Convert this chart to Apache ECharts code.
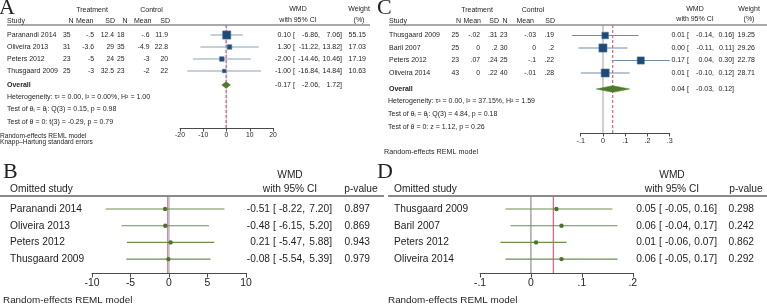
<!DOCTYPE html>
<html><head><meta charset="utf-8">
<script src="https://cdn.jsdelivr.net/npm/echarts@6/dist/echarts.min.js"></script>
<style>html,body{margin:0;padding:0;background:#fff}#c{width:767px;height:308px}</style>
</head><body><div id="c"></div>
<script>
// ---------- Panel A data ----------
const studiesA = ['Paranandi 2014', 'Oliveira 2013', 'Peters 2012', 'Thusgaard 2009'];
const trtNA = ['35', '31', '23', '25'];
const trtMeanA = ['-.5', '-3.6', '-5', '-3'];
const trtSDA = ['12.4', '29', '24', '32.5'];
const ctlNA = ['18', '35', '25', '23'];
const ctlMeanA = ['-.6', '-4.9', '-3', '-2'];
const ctlSDA = ['11.9', '22.8', '20', '22'];
const wmdA = [0.10, 1.30, -2.00, -1.00];
const loA = [-6.86, -11.22, -14.46, -16.84];
const hiA = [7.06, 13.82, 10.46, 14.84];
const weightA = [55.15, 17.03, 17.19, 10.63];
const overallA = [-0.17, -2.06, 1.72];
const ticksA = [-20, -10, 0, 10, 20];

// ---------- Panel C data ----------
const studiesC = ['Thusgaard 2009', 'Baril 2007', 'Peters 2012', 'Oliveira 2014'];
const trtNC = ['25', '25', '23', '43'];
const trtMeanC = ['-.02', '0', '.07', '0'];
const trtSDC = ['.31', '.2', '.24', '.22'];
const ctlNC = ['23', '30', '25', '40'];
const ctlMeanC = ['-.03', '0', '-.1', '-.01'];
const ctlSDC = ['.19', '.2', '.22', '.28'];
const wmdC = [0.01, 0.00, 0.17, 0.01];
const loC = [-0.14, -0.11, 0.04, -0.10];
const hiC = [0.16, 0.11, 0.30, 0.12];
const weightC = [19.25, 29.26, 22.78, 28.71];
const overallC = [0.044, -0.03, 0.12];
const ticksC = [-0.1, 0, 0.1, 0.2, 0.3];

// ---------- Panel B data (leave-one-out) ----------
const studiesB = ['Paranandi 2014', 'Oliveira 2013', 'Peters 2012', 'Thusgaard 2009'];
const estB = [-0.51, -0.48, 0.21, -0.08];
const loB = [-8.22, -6.15, -5.47, -5.54];
const hiB = [7.20, 5.20, 5.88, 5.39];
const pB = [0.897, 0.869, 0.943, 0.979];
const ticksB = [-10, -5, 0, 5, 10];

// ---------- Panel D data (leave-one-out) ----------
const studiesD = ['Thusgaard 2009', 'Baril 2007', 'Peters 2012', 'Oliveira 2014'];
const estD = [0.05, 0.06, 0.01, 0.06];
const loD = [-0.05, -0.04, -0.06, -0.05];
const hiD = [0.16, 0.17, 0.07, 0.17];
const pD = [0.298, 0.242, 0.862, 0.292];
const ticksD = [-0.1, 0, 0.1, 0.2];

// ---------- layout ----------
const FF = '"Liberation Sans", Arial, Helvetica, sans-serif';
const SERIF = '"Liberation Serif", "Times New Roman", serif';
const LA = {top: 25, rowY0: 35, step: 12, axisY: 128, x0: 180, x1: 273, overallY: 85};
const LC = {top: 25, rowY0: 35.5, step: 12.5, axisY: 133, x0: 580.7, x1: 669.7, overallY: 89};
const LB = {top: 196, rowY0: 209, step: 16.7, axisY: 273, x0: 92, x1: 246};
const LD = {top: 196, rowY0: 209, step: 16.7, axisY: 273, x0: 480, x1: 632.8};
const rowVal = (L, y) => (y - L.rowY0) / L.step;
const rowY = (L, i) => L.rowY0 + L.step * i;
const stataFmt = v => { if (Math.abs(v) < 1e-9) return '0'; let s = String(+v.toFixed(2)); return s.replace(/^(-?)0\./, '$1.'); };

const graphics = [];
function T(x, y, text, o) {
  o = o || {};
  graphics.push({type: 'text', x: x, y: y, silent: true, z: 10,
    style: {text: text, fill: o.color || '#1e1e1e', fontSize: o.size || 7, fontFamily: o.family || FF,
      fontWeight: o.weight || 'normal', align: o.align || 'left', verticalAlign: o.va || 'middle', rich: o.rich}});
}
function HL(x1, x2, y, color, w) {
  graphics.push({type: 'line', silent: true, z: 5, shape: {x1: x1, y1: y, x2: x2, y2: y}, style: {stroke: color, lineWidth: w}});
}
// CI text: estimate right-aligned, "[" at fixed x, lower right-aligned, upper right-aligned
function CI(pos, y, e, l, h, size) {
  T(pos[0], y, e.toFixed(2), {align: 'right', size: size});
  T(pos[1], y, '[', {size: size});
  T(pos[2], y, l.toFixed(2) + ',', {align: 'right', size: size});
  T(pos[3], y, h.toFixed(2) + ']', {align: 'right', size: size});
}

const grids = [], xAxes = [], yAxes = [], series = [];
function addPanel(L, ticks, fontSize, margin, tickLen, fmt) {
  const gi = grids.length;
  grids.push({left: L.x0, top: L.top, width: L.x1 - L.x0, height: L.axisY - L.top, containLabel: false});
  xAxes.push({gridIndex: gi, type: 'value', min: ticks[0], max: ticks[ticks.length - 1], interval: ticks[1] - ticks[0],
    axisLine: {show: true, onZero: false, lineStyle: {color: '#4a4a4a', width: 1}},
    axisTick: {show: true, length: tickLen, lineStyle: {color: '#4a4a4a'}},
    axisLabel: {fontSize: fontSize, color: '#1e1e1e', fontFamily: FF, margin: margin, formatter: fmt, showMinLabel: true, showMaxLabel: true},
    splitLine: {show: false}});
  yAxes.push({gridIndex: gi, type: 'value', inverse: true, min: rowVal(L, L.top), max: rowVal(L, L.axisY), show: false});
  return gi;
}
function refLines(gi, L, lines) {
  const yMin = rowVal(L, L.top), yMax = rowVal(L, L.axisY);
  series.push({type: 'custom', xAxisIndex: gi, yAxisIndex: gi, silent: true, z: 1,
    data: lines.map(l => [l.x, 0]),
    renderItem: function (params, api) {
      const l = lines[params.dataIndex];
      const a = api.coord([api.value(0), yMin]), b = api.coord([api.value(0), yMax]);
      return {type: 'line', shape: {x1: a[0], y1: a[1], x2: b[0], y2: b[1]},
        style: {stroke: l.color, lineWidth: l.width, lineDash: l.dash || null}};
    }});
}
function forestSeries(gi, est, lo, hi, wt, k, st) {
  series.push({type: 'custom', xAxisIndex: gi, yAxisIndex: gi, silent: true, z: 3,
    data: est.map((e, i) => [e, i, lo[i], hi[i], wt ? wt[i] : 0]),
    encode: {x: [0, 2, 3], y: 1},
    renderItem: function (params, api) {
      const e = api.value(0), r = api.value(1), l = api.value(2), h = api.value(3), w = api.value(4);
      const p1 = api.coord([l, r]), p2 = api.coord([h, r]), pc = api.coord([e, r]);
      const kids = [{type: 'line', shape: {x1: p1[0], y1: p1[1], x2: p2[0], y2: p2[1]}, style: {stroke: st.line, lineWidth: st.lw}}];
      if (wt) {
        const s = k * Math.sqrt(w);
        kids.push({type: 'rect', shape: {x: pc[0] - s / 2, y: pc[1] - s / 2, width: s, height: s}, style: {fill: st.fill, stroke: st.stroke, lineWidth: 0.6}});
      } else {
        kids.push({type: 'circle', shape: {cx: pc[0], cy: pc[1], r: st.r}, style: {fill: st.fill}});
      }
      return {type: 'group', children: kids};
    }});
}
function diamond(gi, L, ov) {
  const r = rowVal(L, L.overallY);
  series.push({type: 'custom', xAxisIndex: gi, yAxisIndex: gi, silent: true, z: 3,
    data: [[ov[0], r, ov[1], ov[2]]],
    renderItem: function (params, api) {
      const e = api.value(0), rr = api.value(1), l = api.value(2), h = api.value(3);
      const pl = api.coord([l, rr]), ph = api.coord([h, rr]), pc = api.coord([e, rr]);
      const hh = 3.3;
      return {type: 'polygon', shape: {points: [[pl[0], pl[1]], [pc[0], pc[1] - hh], [ph[0], ph[1]], [pc[0], pc[1] + hh]]},
        style: {fill: '#4f7a2a', stroke: '#4f7a2a', lineWidth: 0.5}};
    }});
}
const subRich = {s: {fontSize: 4.7, verticalAlign: 'bottom', padding: [3, 0, 0, 0]}};
const NUM = 6.8;

// ================= Panel A =================
const gA = addPanel(LA, ticksA, 6.8, 4, 3.5, v => String(v));
refLines(gA, LA, [{x: 0, color: '#d8d8d8', width: 1.5}, {x: overallA[0], color: '#c9486a', width: 1, dash: [3, 2]}]);
forestSeries(gA, wmdA, loA, hiA, weightA, 1.1, {line: '#8ba2b8', lw: 1.1, fill: '#1d4a77', stroke: '#4f75a0'});
diamond(gA, LA, overallA);
T(-1, -3, 'A', {size: 22, family: SERIF, va: 'top', color: '#222'});
T(92, 10, 'Treatment', {align: 'center'});
T(151.5, 10, 'Control', {align: 'center'});
T(7, 21, 'Study');
const colsA = [70.5, 94, 114, 124.5, 149.5, 168];
const hdrA = [73.5, 93.5, 115, 127.5, 151.5, 170];
['N', 'Mean', 'SD', 'N', 'Mean', 'SD'].forEach((h, j) => T(hdrA[j], 21, h, {align: 'right'}));
T(298, 9, 'WMD', {align: 'center'});
T(298, 20, 'with 95% CI', {align: 'center'});
T(359, 9, 'Weight', {align: 'center'});
T(359, 20, '(%)', {align: 'center'});
HL(7, 370, LA.top, '#8c8c8c', 1.5);
const ciA = [291, 293, 320, 342];
studiesA.forEach((s, i) => {
  const y = rowY(LA, i);
  T(7, y, s);
  [trtNA[i], trtMeanA[i], trtSDA[i], ctlNA[i], ctlMeanA[i], ctlSDA[i]].forEach((v, j) => T(colsA[j], y, v, {align: 'right', size: NUM}));
  CI(ciA, y, wmdA[i], loA[i], hiA[i]);
  T(366, y, weightA[i].toFixed(2), {align: 'right'});
});
T(7, LA.overallY, 'Overall', {weight: 'bold'});
CI(ciA, LA.overallY, overallA[0], overallA[1], overallA[2]);
T(7, 97, 'Heterogeneity: τ² = 0.00, I² = 0.00%, H² = 1.00');
T(7, 109, 'Test of θ{s|i} = θ{s|j}: Q(3) = 0.15, p = 0.98', {rich: subRich});
T(7, 122, 'Test of θ = 0: t(3) = -0.29, p = 0.79');
T(0, 136, 'Random-effects REML model', {size: 6.6});
T(0, 142.5, 'Knapp–Hartung standard errors', {size: 6.6});

// ================= Panel C =================
const gC = addPanel(LC, ticksC, 7.2, 5, 3.5, stataFmt);
refLines(gC, LC, [{x: 0, color: '#cfcfcf', width: 2}, {x: overallC[0], color: '#c9486a', width: 1, dash: [3, 2]}]);
forestSeries(gC, wmdC, loC, hiC, weightC, 1.5, {line: '#6f8dab', lw: 1.1, fill: '#1d4a77', stroke: '#4f75a0'});
diamond(gC, LC, overallC);
T(377, -3, 'C', {size: 22, family: SERIF, va: 'top', color: '#222'});
T(477, 10, 'Treatment', {align: 'center'});
T(533, 10, 'Control', {align: 'center'});
T(389, 21, 'Study');
const colsC = [459, 480, 497.5, 507.5, 536, 554];
const hdrC = [461, 481, 499, 507.5, 534, 555];
['N', 'Mean', 'SD', 'N', 'Mean', 'SD'].forEach((h, j) => T(hdrC[j], 21, h, {align: 'right'}));
T(695, 9, 'WMD', {align: 'center'});
T(695, 19, 'with 95% CI', {align: 'center'});
T(749, 9, 'Weight', {align: 'center'});
T(749, 19, '(%)', {align: 'center'});
HL(389, 767, LC.top, '#8c8c8c', 1.5);
const ciC = [685, 687, 714, 734];
studiesC.forEach((s, i) => {
  const y = rowY(LC, i);
  T(389, y, s);
  [trtNC[i], trtMeanC[i], trtSDC[i], ctlNC[i], ctlMeanC[i], ctlSDC[i]].forEach((v, j) => T(colsC[j], y, v, {align: 'right', size: NUM}));
  CI(ciC, y, wmdC[i], loC[i], hiC[i]);
  T(755, y, weightC[i].toFixed(2), {align: 'right'});
});
T(389, LC.overallY, 'Overall', {weight: 'bold'});
CI(ciC, LC.overallY, overallC[0], overallC[1], overallC[2]);
T(388, 101, 'Heterogeneity: τ² = 0.00, I² = 37.15%, H² = 1.59');
T(388, 114.5, 'Test of θ{s|i} = θ{s|j}: Q(3) = 4.84, p = 0.18', {rich: subRich});
T(388, 127, 'Test of θ = 0: z = 1.12, p = 0.26');
T(384, 152, 'Random-effects REML model', {size: 7.2});

// ================= Panel B =================
const gB = addPanel(LB, ticksB, 10.4, 5.5, 4.5, v => String(v));
refLines(gB, LB, [{x: 0, color: '#c4c4c4', width: 1.6}, {x: overallA[0], color: '#d47a98', width: 1.2}]);
forestSeries(gB, estB, loB, hiB, null, 0, {line: '#6e9048', lw: 1.1, fill: '#4a7526', r: 2.2});
T(3, 161, 'B', {size: 22, family: SERIF, va: 'top', color: '#222'});
T(10, 189, 'Omitted study', {size: 10.2});
T(290, 175, 'WMD', {size: 10.2, align: 'center'});
T(290, 189, 'with 95% CI', {size: 10.2, align: 'center'});
T(361, 189, 'p-value', {size: 10.2, align: 'center'});
HL(0, 384, LB.top, '#8a8a8a', 2);
const ciB = [270, 273, 305, 332];
studiesB.forEach((s, i) => {
  const y = rowY(LB, i);
  T(10, y, s, {size: 10.2});
  CI(ciB, y, estB[i], loB[i], hiB[i], 10.2);
  T(370, y, pB[i].toFixed(3), {size: 10.2, align: 'right'});
});
T(3, 300, 'Random-effects REML model', {size: 9.9});

// ================= Panel D =================
const gD = addPanel(LD, ticksD, 10.4, 5.5, 4.5, stataFmt);
refLines(gD, LD, [{x: 0, color: '#7a7a7a', width: 1}, {x: overallC[0], color: '#d86a92', width: 1.3}]);
forestSeries(gD, estD, loD, hiD, null, 0, {line: '#6e9048', lw: 1.1, fill: '#4a7526', r: 2.2});
T(377, 161, 'D', {size: 22, family: SERIF, va: 'top', color: '#222'});
T(394, 189, 'Omitted study', {size: 10.2});
T(672, 175, 'WMD', {size: 10.2, align: 'center'});
T(672, 189, 'with 95% CI', {size: 10.2, align: 'center'});
T(746, 189, 'p-value', {size: 10.2, align: 'center'});
HL(388, 767, LD.top, '#8a8a8a', 2);
const ciD = [656, 659, 691, 717];
studiesD.forEach((s, i) => {
  const y = rowY(LD, i);
  T(394, y, s, {size: 10.2});
  CI(ciD, y, estD[i], loD[i], hiD[i], 10.2);
  T(754, y, pD[i].toFixed(3), {size: 10.2, align: 'right'});
});
T(388, 300, 'Random-effects REML model', {size: 9.9});

const chart = echarts.init(document.getElementById('c'), null, {renderer: 'canvas'});
chart.setOption({
  animation: false,
  backgroundColor: '#ffffff',
  grid: grids,
  xAxis: xAxes,
  yAxis: yAxes,
  series: series,
  graphic: {elements: graphics}
});
</script>
</body></html>
